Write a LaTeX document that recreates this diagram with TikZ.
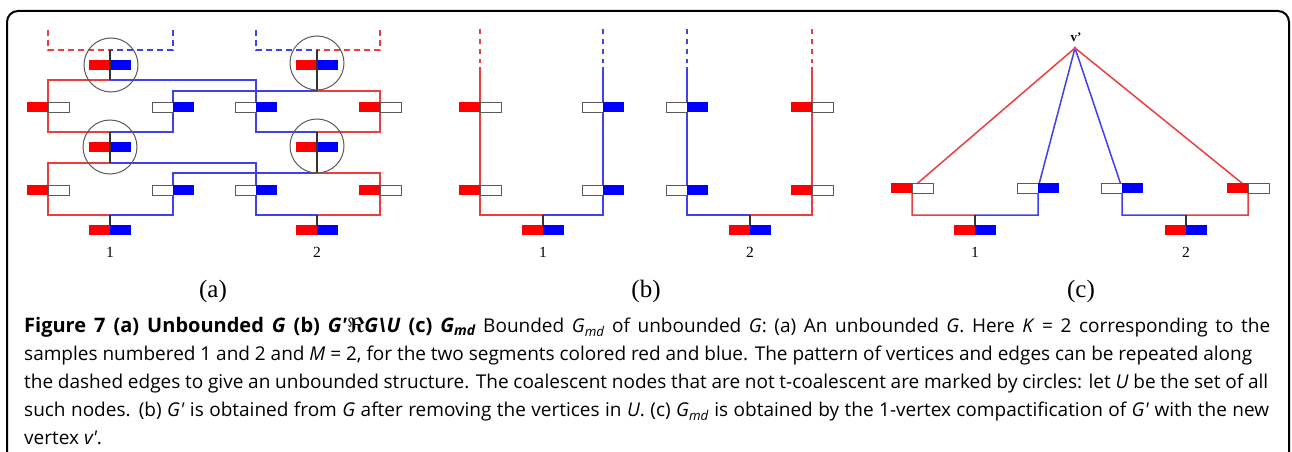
\documentclass[tikz,border=0pt]{standalone}
\usepackage{fontspec}
\setmainfont{Liberation Serif}
\newfontfamily\capfont{Open Sans}
\definecolor{lred}{RGB}{236,62,62}
\definecolor{lblue}{RGB}{64,64,236}
\definecolor{fred}{RGB}{255,0,0}
\definecolor{fblue}{RGB}{0,0,255}
\definecolor{cgray}{RGB}{90,90,90}
\tikzset{
  rl/.style={draw=lred,line width=1.5pt},
  bl/.style={draw=lblue,line width=1.5pt},
  kl/.style={draw=black!80,line width=1.1pt},
  rd/.style={rl,dash pattern=on 6pt off 4pt},
  bd/.style={bl,dash pattern=on 6pt off 4pt},
  half/.style={minimum width=21pt,minimum height=10pt,inner sep=0pt,outer sep=0pt},
  redbox/.style={half,fill=fred},
  bluebox/.style={half,fill=fblue},
  whitebox/.style={half,fill=white,draw=cgray,line width=0.9pt},
  ring/.style={circle,draw=cgray,line width=1pt,minimum size=54pt,inner sep=0pt},
  num/.style={font=\fontsize{15.5}{15.5}\selectfont,inner sep=0pt},
  sub/.style={font=\fontsize{25}{25}\selectfont,inner sep=0pt},
  capline/.style={anchor=base west,inner sep=0pt,font=\capfont\fontsize{19}{23}\selectfont}
}
\newcommand\RV[1]{\node[redbox,anchor=east] (#1-l) at (#1) {};\node[whitebox,anchor=west] (#1-r) at (#1) {};}
\newcommand\BV[1]{\node[whitebox,anchor=east] (#1-l) at (#1) {};\node[bluebox,anchor=west] (#1-r) at (#1) {};}
\newcommand\CV[1]{\node[redbox,anchor=east] (#1-l) at (#1) {};\node[bluebox,anchor=west] (#1-r) at (#1) {};}
\newcommand\BoldHead{{\fontsize{20}{23}\selectfont\bfseries Figure 7 (a) Unbounded \textit{G} (b) \textit{G'}\mbox{\boldmath$\Re$}\textit{G\textbackslash U} (c) \textit{G\textsubscript{md}}}}
\begin{document}
\begin{tikzpicture}[x=1pt,y=-1pt]
\useasboundingbox (0,0) rectangle (1292,452);
\fill[white] (0,0) rectangle (1292,452);
\draw[line width=2pt,rounded corners=11pt] (7,470) -- (7,11) -- (1289,11) -- (1289,470);

% ---------- panel (a) ----------
\coordinate (a1) at (48,107);  \coordinate (a2) at (173,107);
\coordinate (a3) at (256,107); \coordinate (a4) at (380,107);
\coordinate (b1) at (48,190);  \coordinate (b2) at (173,190);
\coordinate (b3) at (256,190); \coordinate (b4) at (380,190);
\coordinate (ctl) at (110,65);  \coordinate (ctr) at (317,65);
\coordinate (cml) at (110,147); \coordinate (cmr) at (317,147);
\coordinate (cb1) at (110,230); \coordinate (cb2) at (317,230);
% junction points
\coordinate (jtl) at (110,80);  \coordinate (jtr) at (317,91);
\coordinate (jml) at (110,132); \coordinate (jmr) at (317,132);
\coordinate (jml2) at (110,163); \coordinate (jmr2) at (317,173);
\coordinate (jb1) at (110,215); \coordinate (jb2) at (317,215);
\coordinate (dtl) at (110,50); \coordinate (dtr) at (317,50);
\coordinate (da1) at (48,30); \coordinate (da2) at (173,30);
\coordinate (da3) at (256,30); \coordinate (da4) at (380,30);

\draw[rd] (da1) |- (dtl);
\draw[bd] (da2) |- (dtl);
\draw[bd] (da3) |- (dtr);
\draw[rd] (da4) |- (dtr);

\draw[rl] (jtl) -| (a1) |- (jml);
\draw[bl] (jtl) -| (a3) |- (jmr);
\draw[bl] (jtr) -| (a2) |- (jml);
\draw[rl] (jtr) -| (a4) |- (jmr);
\draw[rl] (jml2) -| (b1) |- (jb1);
\draw[bl] (jml2) -| (b3) |- (jb2);
\draw[bl] (jmr2) -| (b2) |- (jb1);
\draw[rl] (jmr2) -| (b4) |- (jb2);

\draw[kl] (dtl) -- (jtl);
\draw[kl] (dtr) -- (jtr);
\draw[kl] (jml) -- (jml2);
\draw[kl] (jmr) -- (jmr2);
\draw[kl] (jb1) -- (110,225);
\draw[kl] (jb2) -- (317,225);

\RV{a1}\BV{a2}\BV{a3}\RV{a4}
\RV{b1}\BV{b2}\BV{b3}\RV{b4}
\CV{ctl}\CV{ctr}\CV{cml}\CV{cmr}\CV{cb1}\CV{cb2}
\draw[kl] (110,60) -- (110,70);
\draw[kl] (317,60) -- (317,70);
\draw[kl] (110,142) -- (110,152);
\draw[kl] (317,142) -- (317,152);

\node[ring] (r1) at (111,65) {};
\node[ring] (r2) at (317,63) {};
\node[ring] (r3) at (110,147) {};
\node[ring] (r4) at (317,146) {};

\node[num] (la1) at (110,252) {1};
\node[num] (la2) at (317,252) {2};
\node[sub] (lsa) at (213,291) {(a)};

% ---------- panel (b) ----------
\coordinate (p1) at (480,107); \coordinate (p2) at (480,190);
\coordinate (p3) at (603,107); \coordinate (p4) at (603,190);
\coordinate (q1) at (687,107); \coordinate (q2) at (687,190);
\coordinate (q3) at (812,107); \coordinate (q4) at (812,190);
\coordinate (nb1) at (543,230); \coordinate (nb2) at (750,230);
\coordinate (kb1) at (543,215); \coordinate (kb2) at (750,215);

\draw[rd,dash pattern=on 5pt off 5pt] (480,29) -- (480,63);
\draw[bd,dash pattern=on 5pt off 5pt] (603,29) -- (603,63);
\draw[bd,dash pattern=on 5pt off 5pt] (687,29) -- (687,63);
\draw[rd,dash pattern=on 5pt off 5pt] (812,29) -- (812,63);
\draw[rl] (480,67) -- (p1) -- (p2) |- (kb1);
\draw[bl] (603,67) -- (p3) -- (p4) |- (kb1);
\draw[bl] (687,67) -- (q1) -- (q2) |- (kb2);
\draw[rl] (812,67) -- (q3) -- (q4) |- (kb2);
\draw[kl] (kb1) -- (543,225);
\draw[kl] (kb2) -- (750,225);
\RV{p1}\RV{p2}\BV{p3}\BV{p4}
\BV{q1}\BV{q2}\RV{q3}\RV{q4}
\CV{nb1}\CV{nb2}
\node[num] (lb1) at (543,252) {1};
\node[num] (lb2) at (750,252) {2};
\node[sub] (lsb) at (646,291) {(b)};

% ---------- panel (c) ----------
\coordinate (vp) at (1075,48);
\coordinate (s1) at (912,188); \coordinate (s2) at (1038,188);
\coordinate (s3) at (1122,188); \coordinate (s4) at (1248,188);
\coordinate (nc1) at (975,230); \coordinate (nc2) at (1186,230);
\coordinate (kc1) at (975,215); \coordinate (kc2) at (1186,215);
\draw[rl] (vp) -- (s1) |- (kc1);
\draw[bl] (vp) -- (s2) |- (kc1);
\draw[bl] (vp) -- (s3) |- (kc2);
\draw[rl] (vp) -- (s4) |- (kc2);
\draw[kl] (kc1) -- (975,225);
\draw[kl] (kc2) -- (1186,225);
\RV{s1}\BV{s2}\BV{s3}\RV{s4}
\CV{nc1}\CV{nc2}
\fill[magenta!70] (vp) circle (1.8pt);
\node[inner sep=0pt,font=\fontsize{13}{13}\selectfont\bfseries] (vpl) at (1076,37) {v'};
\node[num] (lc1) at (975,252) {1};
\node[num] (lc2) at (1186,252) {2};
\node[sub] (lsc) at (1081,291) {(c)};

% ---------- caption ----------
\node[capline] (c1) at (24,332) {\makebox[1246pt][s]{\BoldHead{} Bounded \textit{G\textsubscript{md}} of unbounded \textit{G}: (a) An unbounded \textit{G}. Here \textit{K} = 2 corresponding to the}};
\node[capline] (c2) at (24,360) {\makebox[1228pt][s]{samples numbered 1 and 2 and \textit{M} = 2, for the two segments colored red and blue. The pattern of vertices and edges can be repeated along}};
\node[capline] (c3) at (24,388) {\makebox[1244pt][s]{the dashed edges to give an unbounded structure. The coalescent nodes that are not t-coalescent are marked by circles: let \textit{U} be the set of all}};
\node[capline] (c4) at (24,416) {\makebox[1245pt][s]{such nodes. (b) \textit{G'} is obtained from \textit{G} after removing the vertices in \textit{U}. (c) \textit{G\textsubscript{md}} is obtained by the 1-vertex compactification of \textit{G'} with the new}};
\node[capline] (c5) at (24,444) {vertex \textit{v'}.};
\end{tikzpicture}
\end{document}
